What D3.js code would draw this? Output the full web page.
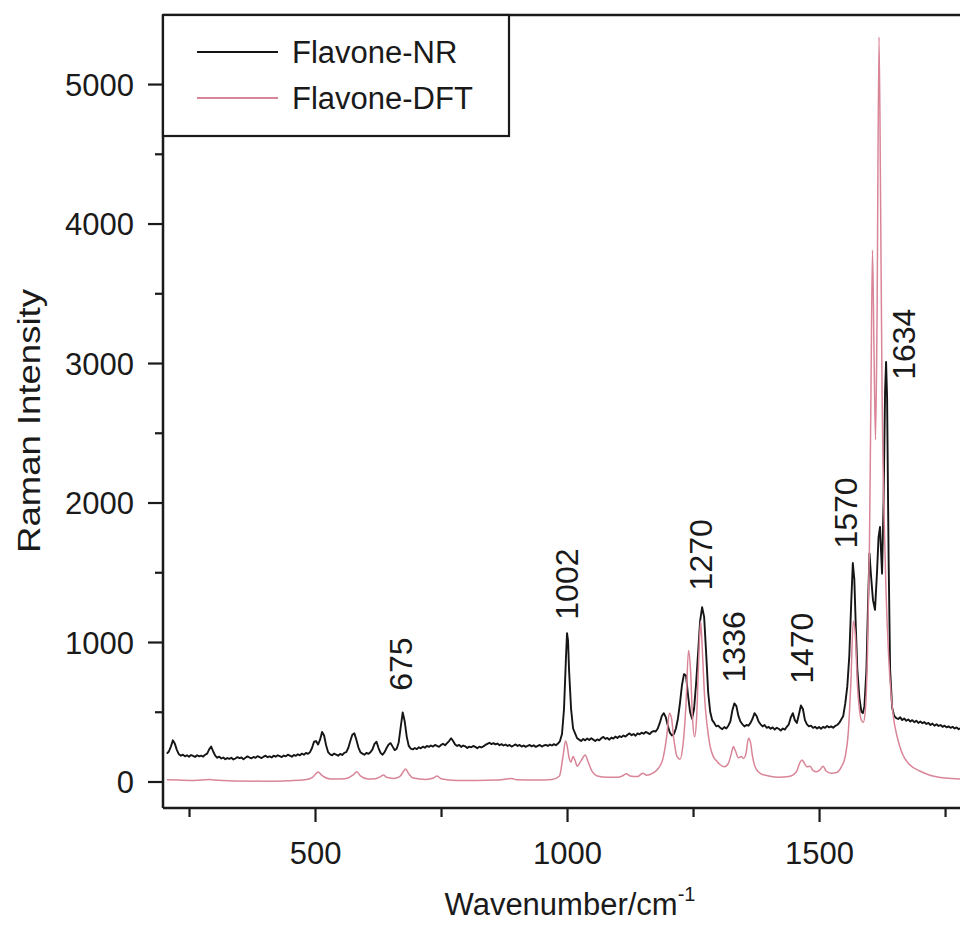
<!DOCTYPE html>
<html>
<head>
<meta charset="utf-8">
<script src="https://cdn.jsdelivr.net/npm/d3@7"></script>
<style>
  html, body { margin: 0; padding: 0; background: #fff; overflow: hidden; }
  svg { display: block; }
  text { font-family: "Liberation Sans", Arial, Helvetica, sans-serif; fill: #1a1a1a; }
</style>
</head>
<body>
<svg id="chart" width="960" height="932"></svg>
<script>
// Measured Raman spectrum of flavone: [wavenumber cm^-1, intensity]
const nrSpectrum = [
  [206,200],[210,215],[214,250],[218,295],[222,270],[226,225],[230,195],[234,185],[238,192],[242,180],
  [246,188],[250,178],[254,190],[258,183],[262,176],[266,188],[270,180],[274,185],[278,178],[282,192],
  [286,200],[290,230],[294,250],[298,215],[302,185],[306,170],[310,178],[314,165],[318,172],[322,160],
  [326,168],[330,162],[334,170],[338,158],[342,165],[346,175],[350,168],[354,172],[358,160],[362,170],
  [366,180],[370,172],[374,166],[378,176],[382,170],[386,182],[390,175],[394,168],[398,178],[402,185],
  [406,174],[410,180],[414,172],[418,185],[422,178],[426,188],[430,182],[434,175],[438,186],[442,180],
  [446,192],[450,185],[454,178],[458,190],[462,184],[466,195],[470,188],[474,200],[478,192],[482,205],
  [486,198],[490,210],[494,240],[498,285],[502,290],[506,265],[510,300],[514,355],[518,330],[522,260],
  [526,210],[530,195],[534,188],[538,200],[542,192],[546,185],[550,198],[554,190],[558,205],[562,210],
  [566,240],[570,290],[574,335],[578,345],[582,300],[586,245],[590,210],[594,200],[598,192],[602,205],
  [606,198],[610,210],[614,230],[618,270],[622,285],[626,240],[630,205],[634,192],[638,210],[642,240],
  [646,265],[650,275],[654,250],[658,225],[662,235],[666,280],[670,390],[674,495],[678,430],[682,320],
  [686,255],[690,235],[694,230],[698,240],[702,232],[706,245],[710,238],[714,250],[718,242],[722,255],
  [726,248],[730,258],[734,250],[738,262],[742,255],[746,248],[750,262],[754,270],[758,260],[762,275],
  [766,290],[770,310],[774,290],[778,265],[782,255],[786,262],[790,248],[794,258],[798,252],[802,240],
  [806,250],[810,245],[814,255],[818,248],[822,238],[826,250],[830,244],[834,252],[838,262],[842,270],
  [846,278],[850,268],[854,275],[858,266],[862,272],[866,260],[870,268],[874,258],[878,265],[882,255],
  [886,262],[890,250],[894,258],[898,266],[902,255],[906,262],[910,250],[914,258],[918,248],[922,256],
  [926,262],[930,252],[934,260],[938,248],[942,255],[946,262],[950,250],[954,258],[958,262],[962,255],
  [966,265],[970,258],[974,268],[978,260],[982,272],[986,290],[990,340],[994,520],[998,900],[1000,1064],
  [1002,1010],[1004,800],[1008,520],[1012,380],[1016,345],[1020,310],[1024,300],[1028,290],[1032,305],
  [1036,295],[1040,308],[1044,298],[1048,310],[1052,300],[1056,290],[1060,302],[1064,295],[1068,310],
  [1072,320],[1076,305],[1080,312],[1084,300],[1088,315],[1092,308],[1096,322],[1100,312],[1104,325],
  [1108,318],[1112,330],[1116,322],[1120,335],[1124,345],[1128,332],[1132,340],[1136,328],[1140,345],
  [1144,338],[1148,350],[1152,342],[1156,355],[1160,348],[1164,340],[1168,355],[1172,362],[1176,358],
  [1180,380],[1184,420],[1188,470],[1192,490],[1196,460],[1200,400],[1204,350],[1208,330],[1212,340],
  [1216,380],[1220,450],[1224,560],[1228,690],[1232,770],[1236,760],[1240,620],[1244,500],[1248,450],
  [1252,520],[1256,700],[1260,920],[1264,1150],[1268,1250],[1272,1180],[1276,920],[1280,640],[1284,500],
  [1288,440],[1292,420],[1296,395],[1300,400],[1304,385],[1308,375],[1312,390],[1316,380],[1320,400],
  [1324,430],[1328,510],[1332,560],[1336,540],[1340,470],[1344,430],[1348,410],[1352,395],[1356,405],
  [1360,400],[1364,420],[1368,450],[1372,490],[1376,470],[1380,430],[1384,410],[1388,395],[1392,405],
  [1396,385],[1400,392],[1404,378],[1408,388],[1412,372],[1416,385],[1420,378],[1424,365],[1428,380],
  [1432,372],[1436,392],[1440,410],[1444,460],[1448,490],[1452,440],[1456,420],[1460,480],[1464,545],
  [1468,520],[1472,440],[1476,410],[1480,395],[1484,400],[1488,385],[1492,392],[1496,380],[1500,390],
  [1504,378],[1508,392],[1512,385],[1516,398],[1520,388],[1524,395],[1528,385],[1532,398],[1536,405],
  [1540,420],[1544,445],[1548,470],[1552,560],[1556,680],[1560,900],[1564,1300],[1567,1566],[1570,1450],
  [1573,1100],[1576,800],[1580,600],[1584,500],[1587,490],[1590,540],[1594,800],[1597,1250],[1600,1635],
  [1603,1480],[1607,1300],[1611,1230],[1615,1500],[1618,1750],[1621,1825],[1623,1650],[1625,1490],
  [1628,2000],[1631,2800],[1633,3007],[1635,2750],[1638,1600],[1641,800],[1645,530],[1649,470],
  [1653,455],[1657,448],[1661,460],[1665,440],[1669,452],[1673,435],[1677,445],[1681,430],[1685,440],
  [1689,425],[1693,436],[1697,420],[1701,430],[1705,418],[1709,426],[1713,412],[1717,420],[1721,405],
  [1725,415],[1729,400],[1733,410],[1737,398],[1741,405],[1745,392],[1749,400],[1753,388],[1757,395],
  [1761,385],[1765,392],[1769,380],[1773,388],[1777,375],[1781,382],[1785,372],[1789,380],[1793,370],
  [1797,376]
];

// Calculated (DFT) Raman spectrum of flavone: [wavenumber cm^-1, intensity]
const dftSpectrum = [
  [206,12],[230,10],[260,8],[290,14],[300,10],[340,4],[400,2],[450,6],[480,12],[495,30],
  [506,68],[515,40],[530,18],[560,20],[575,45],[583,70],[590,40],[605,18],[620,20],[630,35],
  [636,47],[642,30],[655,22],[668,35],[676,75],[680,90],[685,60],[695,25],[720,15],[735,25],
  [742,40],[750,20],[780,8],[820,8],[860,10],[880,18],[890,22],[900,12],[940,10],[970,14],
  [985,40],[992,180],[997,290],[1000,260],[1004,170],[1008,140],[1012,180],[1016,150],[1020,110],
  [1028,150],[1036,190],[1042,140],[1050,70],[1060,40],[1080,30],[1100,30],[1110,40],[1118,55],
  [1125,40],[1140,35],[1150,60],[1158,45],[1170,60],[1180,90],[1190,160],[1198,330],[1203,490],
  [1207,460],[1212,300],[1218,180],[1224,160],[1230,260],[1236,550],[1241,940],[1245,800],
  [1249,450],[1253,320],[1257,450],[1261,850],[1265,1150],[1269,900],[1273,600],[1278,400],
  [1284,250],[1290,180],[1296,150],[1304,120],[1312,105],[1320,130],[1326,200],[1330,250],
  [1334,220],[1340,170],[1346,180],[1350,165],[1355,200],[1360,310],[1364,280],[1368,180],
  [1375,90],[1385,55],[1400,40],[1420,30],[1440,35],[1455,70],[1462,135],[1466,155],[1471,130],
  [1476,105],[1482,110],[1488,80],[1495,70],[1502,85],[1508,110],[1514,75],[1524,60],[1535,65],
  [1545,110],[1552,180],[1558,350],[1563,700],[1568,1150],[1572,1050],[1576,700],[1580,520],
  [1584,440],[1588,425],[1592,520],[1596,900],[1600,1700],[1603,2800],[1606,3810],[1609,3100],
  [1612,2450],[1615,3300],[1619,5337],[1622,4200],[1625,2800],[1629,1900],[1633,1350],[1638,900],
  [1643,620],[1648,450],[1655,320],[1665,200],[1680,120],[1700,75],[1720,45],[1750,25],[1800,15]
];

const seriesNames = ["Flavone-NR", "Flavone-DFT"];
// Band assignments: label text, wavenumber where the label stands, intensity at the label's base
const peakLabels = [675, 1002, 1270, 1336, 1470, 1570, 1634];
const peakLabelAt = [669, 998, 1264, 1330, 1466, 1553, 1667];
const peakLabelHeights = [650, 1160, 1370, 710, 700, 1670, 2880];
const yTicks = [0, 1000, 2000, 3000, 4000, 5000];
const yMinorTicks = [500, 1500, 2500, 3500, 4500];
const xTicks = [500, 1000, 1500];
const xMinorTicks = [250, 750, 1250, 1750];

const colors = { nr: "#151515", dft: "#d98598" };

const svg = d3.select("#chart");
const plotLeft = 163, plotTop = 15, plotBottom = 808, plotRight = 1000;

const x = d3.scaleLinear().domain([198.4, 1859]).range([plotLeft, plotRight]);
const y = d3.scaleLinear().domain([-190, 5495]).range([plotBottom, plotTop]);

svg.append("defs").append("clipPath").attr("id", "plotClip")
  .append("rect").attr("x", plotLeft).attr("y", plotTop)
  .attr("width", plotRight - plotLeft).attr("height", plotBottom - plotTop);

const plot = svg.append("g").attr("clip-path", "url(#plotClip)");

const line = d3.line().x(d => x(d[0])).y(d => y(d[1]));
const smoothLine = d3.line().x(d => x(d[0])).y(d => y(d[1])).curve(d3.curveMonotoneX);

plot.append("path").datum(nrSpectrum)
  .attr("d", line).attr("fill", "none")
  .attr("stroke", colors.nr).attr("stroke-width", 1.9).attr("stroke-linejoin", "round");

plot.append("path").datum(dftSpectrum)
  .attr("d", smoothLine).attr("fill", "none")
  .attr("stroke", colors.dft).attr("stroke-width", 1.5).attr("stroke-linejoin", "round");

// Axes
const yAxis = d3.axisLeft(y).tickValues(yTicks).tickSize(15).tickPadding(14).tickFormat(d3.format("d"));
const yMinor = d3.axisLeft(y).tickValues(yMinorTicks).tickSize(8).tickFormat("");
const xAxis = d3.axisBottom(x).tickValues(xTicks).tickSize(14).tickPadding(20).tickFormat(d3.format("d"));
const xMinor = d3.axisBottom(x).tickValues(xMinorTicks).tickSize(9).tickFormat("");

function styleAxis(g) {
  g.select(".domain").remove();
  g.selectAll("line").attr("stroke", "#1a1a1a").attr("stroke-width", 2.2);
  g.selectAll("text").attr("font-size", 31).attr("fill", "#1a1a1a")
    .attr("font-family", '"Liberation Sans", Arial, sans-serif');
}

svg.append("g").attr("transform", `translate(${plotLeft},0)`).call(yAxis).call(styleAxis)
  .selectAll("text").attr("dy", "0.36em");
svg.append("g").attr("transform", `translate(${plotLeft},0)`).call(yMinor).call(styleAxis);
svg.append("g").attr("transform", `translate(0,${plotBottom})`).call(xAxis).call(styleAxis)
  .selectAll("text").attr("dy", "0.71em");
svg.append("g").attr("transform", `translate(0,${plotBottom})`).call(xMinor).call(styleAxis);

// Frame
const frame = svg.append("g").attr("stroke", "#1a1a1a").attr("stroke-width", 2.5);
frame.append("line").attr("x1", plotLeft).attr("x2", plotRight).attr("y1", plotTop).attr("y2", plotTop);
frame.append("line").attr("x1", plotLeft).attr("x2", plotRight).attr("y1", plotBottom).attr("y2", plotBottom);
frame.append("line").attr("x1", plotLeft).attr("x2", plotLeft).attr("y1", plotTop).attr("y2", plotBottom);

// Peak annotations
svg.append("g").selectAll("text").data(peakLabels).join("text")
  .attr("transform", (d, i) => `translate(${x(peakLabelAt[i])},${y(peakLabelHeights[i])}) rotate(-90)`)
  .attr("dy", "0.36em")
  .attr("font-size", 32)
  .text(d => d);

// Legend
const legend = svg.append("g");
legend.append("rect").attr("x", plotLeft).attr("y", plotTop)
  .attr("width", 509 - plotLeft).attr("height", 136 - plotTop)
  .attr("fill", "#fff").attr("stroke", "#1a1a1a").attr("stroke-width", 2.2);
const legendColors = [colors.nr, colors.dft];
seriesNames.forEach((name, i) => {
  const ly = 52 + i * 46;
  legend.append("line").attr("x1", 197).attr("x2", 278).attr("y1", ly).attr("y2", ly)
    .attr("stroke", legendColors[i]).attr("stroke-width", 2);
  legend.append("text").attr("x", 292).attr("y", ly).attr("dy", "0.36em")
    .attr("font-size", 31).text(name);
});

// Axis titles
svg.append("text")
  .attr("transform", "translate(28,421) rotate(-90)")
  .attr("text-anchor", "middle").attr("dy", "0.36em")
  .attr("font-size", 32)
  .attr("textLength", 264).attr("lengthAdjust", "spacingAndGlyphs")
  .text("Raman Intensity");

const xTitle = svg.append("text")
  .attr("x", 570).attr("y", 915)
  .attr("text-anchor", "middle")
  .attr("font-size", 31);
xTitle.append("tspan").text("Wavenumber/cm");
xTitle.append("tspan").attr("font-size", 20).attr("dy", -14).text("-1");
</script>
</body>
</html>
